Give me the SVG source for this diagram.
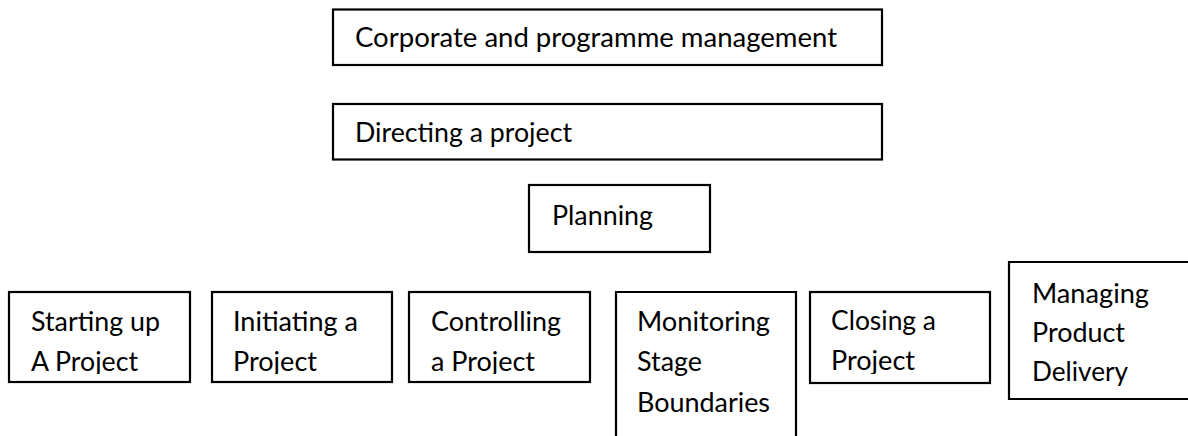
<svg xmlns="http://www.w3.org/2000/svg" width="1188" height="436" viewBox="0 0 1188 436">
  <style>
    .box { fill: #ffffff; stroke: #000000; stroke-width: 2.2; }
    .lbl { font-family: Lato, "Noto Sans", "Liberation Sans", sans-serif; font-size: 26px; fill: #000000; }
  </style>
  <defs>
    <!-- two-line boxes crop their last line just under the baseline -->
    <clipPath id="clip-start"><rect x="10" y="293" width="179" height="81"/></clipPath>
    <clipPath id="clip-init"><rect x="213" y="293" width="178" height="81"/></clipPath>
    <clipPath id="clip-ctrl"><rect x="410" y="293" width="179" height="81"/></clipPath>
    <clipPath id="clip-close"><rect x="811" y="293" width="178" height="81"/></clipPath>
  </defs>
  <rect width="1188" height="436" fill="#ffffff"/>

  <g id="corporate">
    <rect class="box" x="333" y="9.5" width="549" height="55.5"/>
    <text class="lbl" x="355" y="47" textLength="482" lengthAdjust="spacingAndGlyphs">Corporate and programme management</text>
  </g>

  <g id="directing">
    <rect class="box" x="333" y="104" width="549" height="55.5"/>
    <text class="lbl" x="355" y="142" textLength="217" lengthAdjust="spacingAndGlyphs">Directing a project</text>
  </g>

  <g id="planning">
    <rect class="box" x="529" y="185" width="181" height="67" stroke-width="2.6"/>
    <text class="lbl" x="552" y="225" textLength="101" lengthAdjust="spacingAndGlyphs">Planning</text>
  </g>

  <g id="starting-up">
    <rect class="box" x="9" y="292" width="181" height="90"/>
    <g clip-path="url(#clip-start)">
      <text class="lbl" x="31" y="331" textLength="129" lengthAdjust="spacingAndGlyphs">Starting up</text>
      <text class="lbl" x="31" y="371" textLength="107" lengthAdjust="spacingAndGlyphs">A Project</text>
    </g>
  </g>

  <g id="initiating">
    <rect class="box" x="212" y="292" width="180" height="90"/>
    <g clip-path="url(#clip-init)">
      <text class="lbl" x="233" y="331" textLength="125" lengthAdjust="spacingAndGlyphs">Initiating a</text>
      <text class="lbl" x="233" y="371" textLength="84" lengthAdjust="spacingAndGlyphs">Project</text>
    </g>
  </g>

  <g id="controlling">
    <rect class="box" x="409" y="292" width="181" height="90"/>
    <g clip-path="url(#clip-ctrl)">
      <text class="lbl" x="431" y="331" textLength="130" lengthAdjust="spacingAndGlyphs">Controlling</text>
      <text class="lbl" x="431" y="371" textLength="104" lengthAdjust="spacingAndGlyphs">a Project</text>
    </g>
  </g>

  <g id="monitoring">
    <path class="box" d="M616 440 V292 H796 V440"/>
    <text class="lbl" x="637" y="331" textLength="133" lengthAdjust="spacingAndGlyphs">Monitoring</text>
    <text class="lbl" x="637" y="371" textLength="65" lengthAdjust="spacingAndGlyphs">Stage</text>
    <text class="lbl" x="637" y="412" textLength="133" lengthAdjust="spacingAndGlyphs">Boundaries</text>
  </g>

  <g id="closing">
    <rect class="box" x="810" y="292" width="180" height="91"/>
    <g clip-path="url(#clip-close)">
      <text class="lbl" x="831" y="330" textLength="105" lengthAdjust="spacingAndGlyphs">Closing a</text>
      <text class="lbl" x="831" y="370" textLength="84" lengthAdjust="spacingAndGlyphs">Project</text>
    </g>
  </g>

  <g id="managing-delivery">
    <path class="box" d="M1192 262 H1009 V399 H1192"/>
    <text class="lbl" x="1032" y="303" textLength="117" lengthAdjust="spacingAndGlyphs">Managing</text>
    <text class="lbl" x="1032" y="342" textLength="93" lengthAdjust="spacingAndGlyphs">Product</text>
    <text class="lbl" x="1032" y="381" textLength="96" lengthAdjust="spacingAndGlyphs">Delivery</text>
  </g>

  <!-- no connectors are drawn between these boxes -->
  <g id="connectors"/>
</svg>
